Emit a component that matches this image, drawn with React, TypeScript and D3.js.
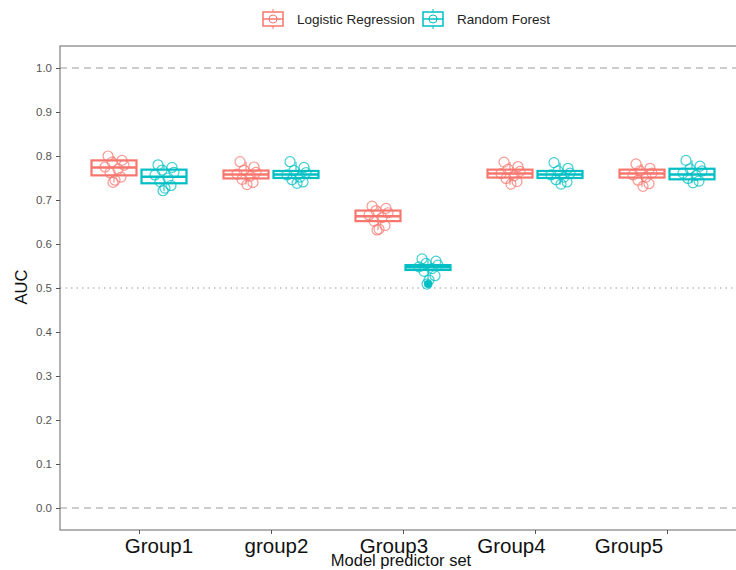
import React, { useEffect, useRef } from "react";
import * as d3 from "d3";

const groups = ["Group1", "group2", "Group3", "Group4", "Group5"];
const models = ["Logistic Regression", "Random Forest"];
const colors = ["#F8766D", "#00BFC4"];
const yTicks = [0, 0.1, 0.2, 0.3, 0.4, 0.5, 0.6, 0.7, 0.8, 0.9, 1.0];

// Logistic regression box stats per group
const lrLow = [0.74, 0.735, 0.632, 0.735, 0.73];
const lrQ1 = [0.756, 0.749, 0.652, 0.751, 0.751];
const lrMed = [0.774, 0.758, 0.663, 0.76, 0.76];
const lrQ3 = [0.79, 0.767, 0.676, 0.769, 0.769];
const lrHigh = [0.8, 0.787, 0.686, 0.786, 0.782];

// Random forest box stats per group
const rfLow = [0.72, 0.738, 0.516, 0.735, 0.738];
const rfQ1 = [0.738, 0.75, 0.541, 0.75, 0.747];
const rfMed = [0.753, 0.758, 0.547, 0.758, 0.758];
const rfQ3 = [0.769, 0.766, 0.552, 0.766, 0.771];
const rfHigh = [0.78, 0.787, 0.566, 0.785, 0.79];
const rfOutliers = [[], [], [0.509], [], []];
const lrOutliers = [[], [], [], [], []];

// individual fold AUCs (jittered points)
const lrPts = [
  [0.8, 0.79, 0.786, 0.779, 0.775, 0.77, 0.762, 0.752, 0.745, 0.74],
  [0.787, 0.775, 0.768, 0.763, 0.759, 0.754, 0.747, 0.74, 0.735],
  [0.686, 0.681, 0.676, 0.671, 0.666, 0.66, 0.652, 0.642, 0.634, 0.632],
  [0.786, 0.776, 0.77, 0.765, 0.76, 0.755, 0.749, 0.742, 0.736],
  [0.782, 0.772, 0.766, 0.761, 0.757, 0.752, 0.745, 0.737, 0.731],
];
const rfPts = [
  [0.78, 0.774, 0.768, 0.763, 0.757, 0.75, 0.742, 0.733, 0.727, 0.721],
  [0.787, 0.774, 0.767, 0.762, 0.757, 0.752, 0.746, 0.741, 0.738],
  [0.566, 0.561, 0.556, 0.552, 0.548, 0.544, 0.538, 0.528, 0.518, 0.509],
  [0.785, 0.772, 0.766, 0.761, 0.757, 0.752, 0.746, 0.741, 0.736],
  [0.79, 0.777, 0.771, 0.766, 0.761, 0.756, 0.749, 0.743, 0.739],
];
// horizontal jitter pattern (px), as seen in the picture
const jitter = [-6, 8, -2, 10, -9, 4, -4, 7, 1, -1];

export default function App() {
  const svgRef = useRef<SVGSVGElement>(null);

  useEffect(() => {
    const width = 736;
    const height = 570;
    const left = 60;
    const top = 46;
    const bottom = 530;
    const right = 746;

    const svg = d3.select(svgRef.current);
    svg.selectAll("*").remove();
    svg.attr("width", width).attr("height", height);

    const x = d3.scalePoint<string>().domain(groups).range([139, 667]);
    const labelX = d3.scalePoint<string>().domain(groups).range([159, 629]);
    const dodge = d3.scalePoint<string>().domain(models).range([-25, 25]);
    const y = d3.scaleLinear().domain([-0.05, 1.05]).range([bottom, top]);
    const boxW = 45;

    const stats = [
      { lo: lrLow, q1: lrQ1, med: lrMed, q3: lrQ3, hi: lrHigh, pts: lrPts, out: lrOutliers },
      { lo: rfLow, q1: rfQ1, med: rfMed, q3: rfQ3, hi: rfHigh, pts: rfPts, out: rfOutliers },
    ];
    const boxes = models.flatMap((m, mi) =>
      groups.map((g, gi) => ({
        model: m,
        color: colors[mi],
        cx: (x(g) as number) + (dodge(m) as number),
        lo: stats[mi].lo[gi],
        q1: stats[mi].q1[gi],
        med: stats[mi].med[gi],
        q3: stats[mi].q3[gi],
        hi: stats[mi].hi[gi],
        pts: stats[mi].pts[gi],
        out: stats[mi].out[gi],
      }))
    );

    // reference lines
    const refs = [
      { v: 1, dash: "7,5" },
      { v: 0.5, dash: "1.5,4" },
      { v: 0, dash: "7,5" },
    ];
    svg
      .selectAll("line.ref")
      .data(refs)
      .join("line")
      .attr("class", "ref")
      .attr("x1", left)
      .attr("x2", right)
      .attr("y1", (d) => y(d.v))
      .attr("y2", (d) => y(d.v))
      .attr("stroke", "#9a9a9a")
      .attr("stroke-width", 1.1)
      .attr("stroke-dasharray", (d) => d.dash);

    // panel border
    svg
      .append("rect")
      .attr("x", left)
      .attr("y", top)
      .attr("width", right - left)
      .attr("height", bottom - top)
      .attr("fill", "none")
      .attr("stroke", "#666")
      .attr("stroke-width", 1);

    // y axis
    const yAxis = svg
      .append("g")
      .attr("transform", `translate(${left},0)`)
      .call(d3.axisLeft(y).tickValues(yTicks).tickFormat(d3.format(".1f")).tickSize(4).tickPadding(4));
    yAxis.select(".domain").remove();
    yAxis.selectAll("line").attr("stroke", "#555");
    yAxis
      .selectAll("text")
      .attr("fill", "#555")
      .style("font", "11.5px 'Liberation Sans', Arial, sans-serif");

    // x axis ticks
    const xAxis = svg
      .append("g")
      .attr("transform", `translate(0,${bottom})`)
      .call(d3.axisBottom(x).tickSize(4).tickFormat(() => ""));
    xAxis.select(".domain").remove();
    xAxis.selectAll("line").attr("stroke", "#555");

    // x tick labels
    svg
      .selectAll("text.xlab")
      .data(groups)
      .join("text")
      .attr("class", "xlab")
      .attr("x", (d) => labelX(d) as number)
      .attr("y", 553)
      .attr("text-anchor", "middle")
      .attr("fill", "#111")
      .style("font", "20.5px 'Liberation Sans', Arial, sans-serif")
      .text((d) => d);

    // axis titles
    svg
      .append("text")
      .attr("x", 401)
      .attr("y", 566)
      .attr("text-anchor", "middle")
      .attr("fill", "#111")
      .style("font", "16.5px 'Liberation Sans', Arial, sans-serif")
      .text("Model predictor set");
    svg
      .append("text")
      .attr("transform", "translate(27,287) rotate(-90)")
      .attr("text-anchor", "middle")
      .attr("fill", "#111")
      .style("font", "16.5px 'Liberation Sans', Arial, sans-serif")
      .text("AUC");

    // boxes
    const bx = svg.append("g").selectAll("g").data(boxes).join("g");
    bx.append("line")
      .attr("x1", (d) => d.cx)
      .attr("x2", (d) => d.cx)
      .attr("y1", (d) => y(d.hi))
      .attr("y2", (d) => y(d.q3))
      .attr("stroke", (d) => d.color)
      .attr("stroke-width", 1);
    bx.append("line")
      .attr("x1", (d) => d.cx)
      .attr("x2", (d) => d.cx)
      .attr("y1", (d) => y(d.q1))
      .attr("y2", (d) => y(d.lo))
      .attr("stroke", (d) => d.color)
      .attr("stroke-width", 1);
    bx.append("rect")
      .attr("x", (d) => d.cx - boxW / 2)
      .attr("y", (d) => y(d.q3))
      .attr("width", boxW)
      .attr("height", (d) => y(d.q1) - y(d.q3))
      .attr("fill", "white")
      .attr("stroke", (d) => d.color)
      .attr("stroke-width", 2.2);
    bx.append("line")
      .attr("x1", (d) => d.cx - boxW / 2)
      .attr("x2", (d) => d.cx + boxW / 2)
      .attr("y1", (d) => y(d.med))
      .attr("y2", (d) => y(d.med))
      .attr("stroke", (d) => d.color)
      .attr("stroke-width", 2.5);

    // jittered points
    bx.selectAll("circle.pt")
      .data((d) => d.pts.map((v, i) => ({ v, cx: d.cx + jitter[i % jitter.length], color: d.color })))
      .join("circle")
      .attr("class", "pt")
      .attr("cx", (p) => p.cx)
      .attr("cy", (p) => y(p.v))
      .attr("r", 5)
      .attr("fill", "none")
      .attr("stroke", (p) => p.color)
      .attr("stroke-opacity", 0.75)
      .attr("stroke-width", 1.2);

    // outliers
    bx.selectAll("circle.out")
      .data((d) => d.out.map((v) => ({ v, cx: d.cx, color: d.color })))
      .join("circle")
      .attr("class", "out")
      .attr("cx", (p) => p.cx)
      .attr("cy", (p) => y(p.v))
      .attr("r", 4)
      .attr("fill", (p) => p.color);

    // legend
    const legendX = d3.scalePoint<string>().domain(models).range([273, 433]);
    const lg = svg
      .append("g")
      .selectAll("g")
      .data(models)
      .join("g")
      .attr("transform", (d) => `translate(${legendX(d)},19)`);
    lg.append("line")
      .attr("y1", -10)
      .attr("y2", 10)
      .attr("stroke", (d, i) => colors[i])
      .attr("stroke-width", 1);
    lg.append("rect")
      .attr("x", -10)
      .attr("y", -7)
      .attr("width", 20)
      .attr("height", 14)
      .attr("fill", "white")
      .attr("stroke", (d, i) => colors[i])
      .attr("stroke-width", 1.5);
    lg.append("line")
      .attr("x1", -10)
      .attr("x2", 10)
      .attr("stroke", (d, i) => colors[i])
      .attr("stroke-width", 1.5);
    lg.append("circle")
      .attr("r", 4)
      .attr("fill", "none")
      .attr("stroke", (d, i) => colors[i])
      .attr("stroke-width", 1);
    lg.append("text")
      .attr("x", 24)
      .attr("y", 5)
      .attr("fill", "#222")
      .style("font", "13.5px 'Liberation Sans', Arial, sans-serif")
      .text((d) => d);
  }, []);

  return (
    <svg ref={svgRef} style={{ position: "absolute", left: 0, top: 0, background: "white" }} />
  );
}
